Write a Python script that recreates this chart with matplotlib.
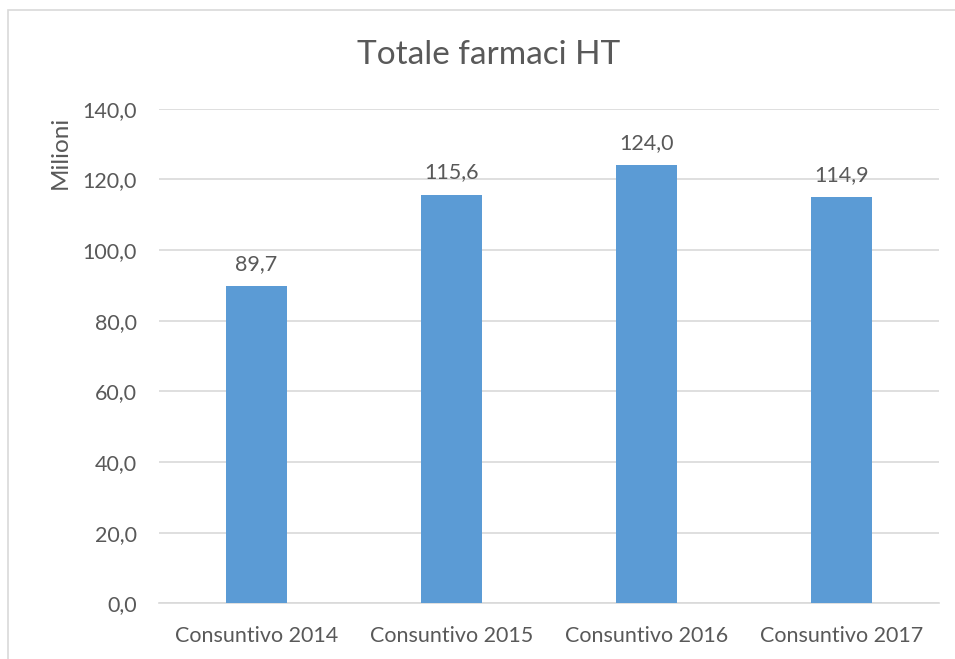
import matplotlib.pyplot as plt
from matplotlib.patches import Rectangle

categories = ['Consuntivo 2014', 'Consuntivo 2015', 'Consuntivo 2016', 'Consuntivo 2017']
values = [89.7, 115.6, 124.0, 114.9]
y_ticks = [0, 20, 40, 60, 80, 100, 120, 140]

text_color = '#595959'
grid_color = '#D9D9D9'
bar_color = '#5B9BD5'

plt.rcParams['font.family'] = ['Lato', 'DejaVu Sans']

fig = plt.figure(figsize=(9.55, 6.59), dpi=100)
# chart frame, running off the right and bottom edges
fig.patches.append(Rectangle((8 / 955, -0.1), 1.1, 1 - 10 / 659 + 0.1,
                             transform=fig.transFigure, fill=False,
                             edgecolor=grid_color, linewidth=1.2))

ax = fig.add_axes([159 / 955, 1 - 603.3 / 659, 780 / 955, 494.6 / 659])
x = range(len(categories))
ax.bar(x, values, width=0.31, color=bar_color, zorder=3)
for xi, v in zip(x, values):
    ax.annotate(f'{v:.1f}'.replace('.', ','), (xi, v), xytext=(0, 9),
                textcoords='offset points', ha='center', va='bottom',
                fontsize=15.5, color=text_color)

ax.set_xlim(-0.5, len(categories) - 0.5)
ax.set_ylim(0, 140)
ax.set_yticks(y_ticks)
ax.set_yticklabels([f'{t:.1f}'.replace('.', ',') for t in y_ticks])
ax.set_xticks(list(x))
ax.set_xticklabels(categories)
ax.tick_params(length=0, labelsize=15.5, labelcolor=text_color)
ax.tick_params(axis='y', pad=16)
ax.tick_params(axis='x', pad=16)
ax.grid(axis='y', color=grid_color, linewidth=1.2, zorder=0)
for side in ['top', 'right', 'left']:
    ax.spines[side].set_visible(False)
ax.spines['bottom'].set_color(grid_color)
ax.spines['bottom'].set_linewidth(1.2)

fig.text(489 / 955, 1 - 55 / 659, 'Totale farmaci HT', ha='center', va='center',
         fontsize=24, color=text_color)
fig.text(60 / 955, 1 - 152 / 659, 'Milioni', ha='center', va='center',
         rotation=90, fontsize=17.5, color=text_color)

fig.savefig('out.png', dpi=100)
